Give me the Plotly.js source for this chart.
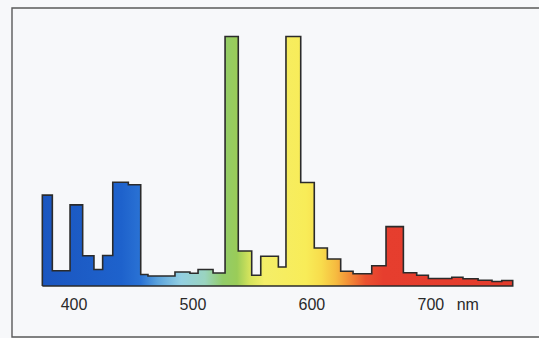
<!DOCTYPE html>
<html><head><meta charset="utf-8">
<script src="https://cdn.plot.ly/plotly-3.0.1.min.js"></script>
<style>html,body{margin:0;padding:0;background:#f7f8fa;}#chart{width:539px;height:338px;}</style>
</head><body><div id="chart"></div>
<script>
// Wavelength bin edges (nm) and relative intensity of each bin (peaks clipped at 100)
const binEdges = [373.4, 381.8, 396.7, 407.3, 416.8, 424.1, 432.6, 445.7, 456.1, 462.2,
  484.9, 497.5, 504.3, 516.9, 527.0, 538.1, 549.4, 557.0, 571.8, 578.2,
  590.6, 602.0, 613.0, 624.2, 634.6, 650.3, 662.3, 676.9, 688.1, 697.9,
  717.6, 727.0, 739.7, 751.4, 759.6, 768.8];
const intensity = [36.4, 6.1, 32.5, 12.1, 6.6, 12.2, 41.6, 40.6, 4.6, 4.0,
  5.6, 5.1, 6.6, 5.2, 100, 14.0, 4.3, 11.9, 7.6, 100,
  41.5, 15.2, 10.8, 5.9, 4.9, 8.1, 23.8, 5.3, 4.3, 3.0,
  3.5, 2.9, 2.3, 1.8, 2.2];
const tickValues = [400, 500, 600, 700, 731];
const tickLabels = ['400', '500', '600', '700', 'nm'];
// spectral colour at wavelength (nm)
const colorNm = [373, 440, 456, 470, 490, 510, 525, 537, 548, 560, 595, 608, 620, 632, 645, 660, 769];
const colorHex = ['#1b56c0', '#1e62cc', '#2a72d4', '#5aa2dc', '#93d0e2', '#9ad4c0', '#92cc6a', '#9acc58',
  '#d6e45c', '#f4ee68', '#f8ec58', '#f8dc4c', '#f6bc40', '#f28a36', '#ea5230', '#e63e2e', '#e43c2c'];

const xs = [binEdges[0]], ys = [0];
for (let i = 0; i < intensity.length; i++) { xs.push(binEdges[i]); ys.push(intensity[i]); }
const last = binEdges.length - 1;
xs.push(binEdges[last]); ys.push(intensity[intensity.length - 1]);
xs.push(binEdges[last]); ys.push(0);
xs.push(binEdges[0]); ys.push(0);

const lo = binEdges[0], hi = binEdges[last];
const colorscale = colorNm.map((nm, i) => [Math.min(1, Math.max(0, (nm - lo) / (hi - lo))), colorHex[i]]);
colorscale[0][0] = 0; colorscale[colorscale.length - 1][0] = 1;

const trace = {
  x: xs, y: ys, type: 'scatter', mode: 'lines',
  line: {shape: 'hv', color: '#2b2b2b', width: 1.6},
  fill: 'toself',
  fillgradient: {type: 'horizontal', colorscale: colorscale, start: lo, stop: hi},
  hoverinfo: 'skip'
};

const layout = {
  width: 539, height: 338,
  margin: {l: 12, r: 0, t: 8, b: 50},
  paper_bgcolor: '#f7f8fa', plot_bgcolor: '#f7f8fa',
  showlegend: false,
  xaxis: {range: [347.9, 790.9], showgrid: false, zeroline: false, showline: false,
    ticks: '', tickvals: tickValues, ticktext: tickLabels, ticklabelstandoff: 5,
    tickfont: {family: 'Liberation Sans, Arial, sans-serif', size: 16, color: '#2a2a2a'}},
  yaxis: {range: [-0.8, 111.4], visible: false, showgrid: false, zeroline: false},
  shapes: [{type: 'rect', xref: 'paper', yref: 'paper', x0: 0, x1: 1.05, y0: -0.175, y1: 1,
    line: {color: '#5a5a5a', width: 1.4}, layer: 'below'}]
};
Plotly.newPlot('chart', [trace], layout, {displayModeBar: false, staticPlot: true});
</script></body></html>
